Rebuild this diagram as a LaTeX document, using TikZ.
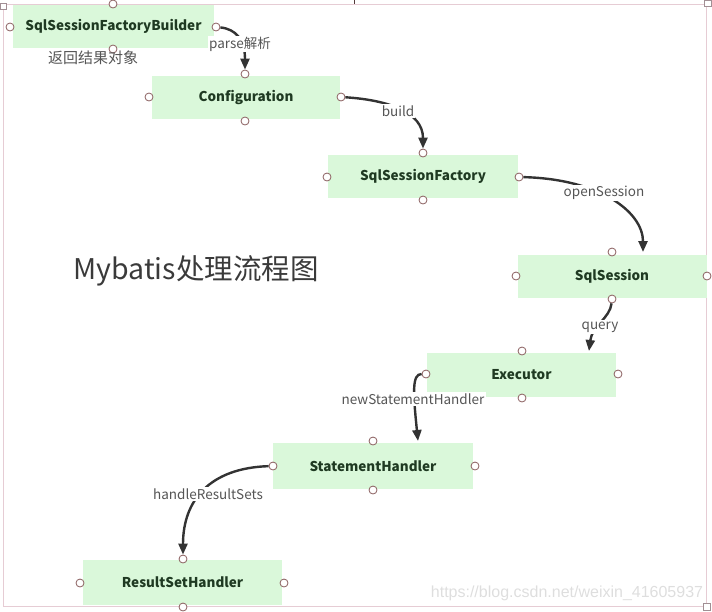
\documentclass[tikz,border=0pt]{standalone}
\usepackage{fontspec}
\setmainfont{Noto Sans CJK SC}
\newfontfamily\wmfont{Liberation Sans}
\usetikzlibrary{arrows.meta}
\definecolor{boxgreen}{HTML}{DAF8DA}
\definecolor{nodetext}{HTML}{1F3A22}
\definecolor{handle}{HTML}{8A5F5F}
\definecolor{edgec}{HTML}{333333}
\definecolor{lblc}{HTML}{555555}
\definecolor{framec}{HTML}{E6CCD4}
\definecolor{titlec}{HTML}{3A3A3A}
\definecolor{wmc}{HTML}{DEDEDE}
\begin{document}
\begin{tikzpicture}[x=1pt,y=-1pt,
  box/.style={fill=boxgreen, inner sep=0pt, font=\fontsize{13.5}{15}\selectfont\bfseries, text=nodetext},
  hcirc/.style={circle, draw=handle, fill=white, line width=0.8pt, minimum size=8pt, inner sep=0pt},
  edge/.style={draw=edgec, line width=2.4pt, -{Triangle[length=11pt,width=9pt]}},
  lbl/.style={fill=white, inner sep=1.2pt, font=\fontsize{13.5}{15}\selectfont, text=lblc},
  sq/.style={draw=framec!70!black, fill=white, line width=0.6pt}]
\useasboundingbox (0,0) rectangle (712,611);
% frame
\draw[framec, line width=0.8pt] (3,4) rectangle (706,606);
\draw[handle!60!black, line width=0.8pt] (354,0) -- (354,4);
\draw[sq] (0,3) rectangle (6,9);
\draw[sq] (704,0) rectangle (711,6);
\draw[sq] (703,603) rectangle (710,610);
% boxes
\node[box, minimum width=201pt, minimum height=43pt] (b1) at (113.5,26.5) {SqlSessionFactoryBuilder};
\node[box, minimum width=188pt, minimum height=43pt] (b2) at (246,97.5) {Configuration};
\node[box, minimum width=190pt, minimum height=43pt] (b3) at (423,176.5) {SqlSessionFactory};
\node[box, minimum width=189pt, minimum height=43pt] (b4) at (612,276.5) {SqlSession};
\node[box, minimum width=189pt, minimum height=44pt] (b5) at (521.5,375) {Executor};
\node[box, minimum width=200pt, minimum height=46pt] (b6) at (373,466) {StatementHandler};
\node[box, minimum width=199pt, minimum height=45pt] (b7) at (182.5,582.5) {ResultSetHandler};
% handles
\node[hcirc] (b1w) at (10,27) {};
\node[hcirc] (b1e) at (216,27) {};
\node[hcirc] (b1n) at (113,4) {};
\node[hcirc] (b1s) at (113,49) {};
\node[hcirc] (b2w) at (149,97) {};
\node[hcirc] (b2e) at (341,97) {};
\node[hcirc] (b2n) at (245,74) {};
\node[hcirc] (b2s) at (245,121) {};
\node[hcirc] (b3w) at (327,177) {};
\node[hcirc] (b3e) at (519,177) {};
\node[hcirc] (b3n) at (423,153) {};
\node[hcirc] (b3s) at (423,200) {};
\node[hcirc] (b4w) at (516,276) {};
\node[hcirc] (b4e) at (707,276) {};
\node[hcirc] (b4n) at (612,252) {};
\node[hcirc] (b4s) at (612,299) {};
\node[hcirc] (b5w) at (426,374) {};
\node[hcirc] (b5e) at (618,374) {};
\node[hcirc] (b5n) at (522,351) {};
\node[hcirc] (b5s) at (522,398) {};
\node[hcirc] (b6w) at (273,466) {};
\node[hcirc] (b6e) at (475,466) {};
\node[hcirc] (b6n) at (373,441) {};
\node[hcirc] (b6s) at (373,490) {};
\node[hcirc] (b7w) at (80,583) {};
\node[hcirc] (b7e) at (284,583) {};
\node[hcirc] (b7n) at (183,559) {};
\node[hcirc] (b7s) at (183,607) {};
% free arrow ends
\coordinate (t4) at (643,252);
\coordinate (t5) at (589,351);
\coordinate (t6) at (418,441);
% edges
\draw[edge] (b1e) .. controls (236,29) and (245,40) .. (b2n);
\draw[edge] (b2e) .. controls (388,100) and (423,112) .. (b3n);
\draw[edge] (b3e) .. controls (600,179) and (643,212) .. (t4);
\draw[edge] (b4s) .. controls (610,318) and (592,326) .. (t5);
\draw[edge] (b5w) .. controls (412,374) and (413,392) .. (t6);
\draw[edge] (b6w) .. controls (210,468) and (183,500) .. (b7n);
% labels
\node[lbl] (l1) at (240,44) {parse解析};
\node[lbl] (l2) at (398,111) {build};
\node[lbl] (l3) at (604,193) {openSession};
\node[lbl] (l4) at (600,327) {query};
\node[lbl] (l5) at (413,399) {newStatementHandler};
\node[lbl] (l6) at (208,494) {handleResultSets};
% texts
\node[font=\fontsize{15}{17}\selectfont, text=lblc] (ret) at (93,58) {返回结果对象};
\node[font=\fontsize{28.5}{32}\selectfont, text=titlec] (title) at (196,271) {Mybatis处理流程图};
\node[font=\wmfont\fontsize{16}{18}\selectfont, text=wmc] (wm) at (567,593) {https://blog.csdn.net/weixin\_41605937};
\end{tikzpicture}
\end{document}
